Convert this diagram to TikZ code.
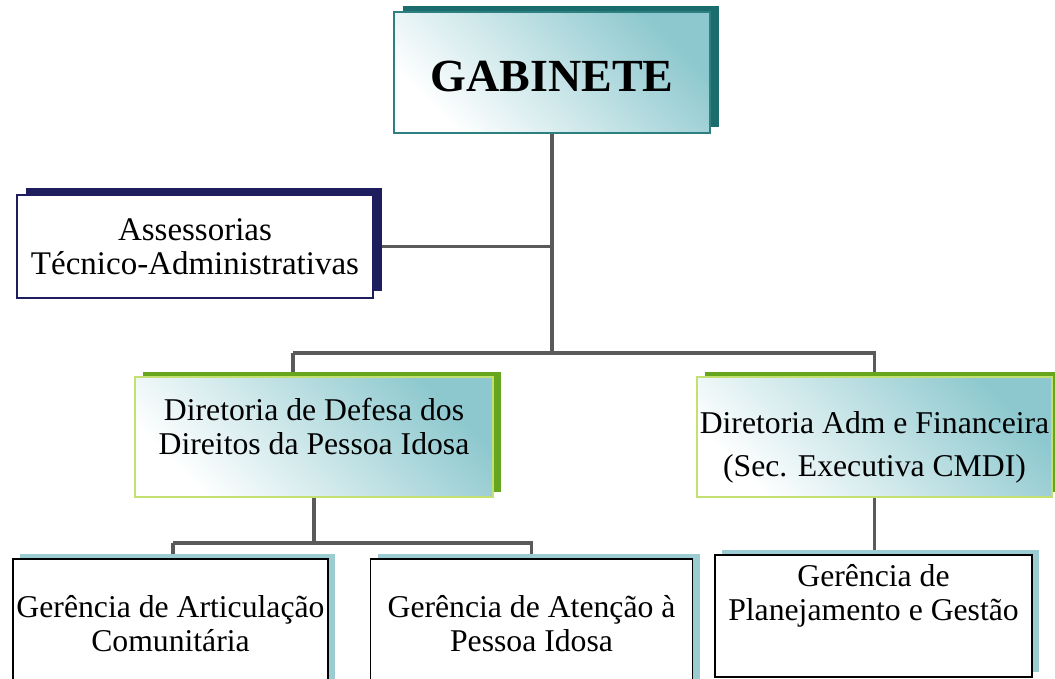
\documentclass[tikz,border=0pt]{standalone}
\usepackage{fontspec}
\setmainfont{Liberation Serif}
\usetikzlibrary{shadows,backgrounds}
\definecolor{gabshadow}{HTML}{1B6D6D}
\definecolor{gabline}{HTML}{2E8080}
\definecolor{boxteal}{HTML}{8CC8CE}
\definecolor{assnavy}{HTML}{1E1E5E}
\definecolor{dirgreen}{HTML}{66A61E}
\definecolor{dirline}{HTML}{C4E070}
\definecolor{gershadow}{HTML}{9BCCD1}
\definecolor{linkgray}{HTML}{5A5A5A}
\newcommand{\lifted}[2]{\raisebox{#1}[0pt][0pt]{\begin{tabular}{@{}c@{}}#2\end{tabular}}}
\begin{document}
\begin{tikzpicture}[x=1pt, y=-1pt,
    box/.style={rectangle, align=center, inner sep=0pt, font=\fontsize{31.7}{34}\selectfont},
    gabbox/.style={box, draw=gabline, line width=1.2pt, top color=boxteal, bottom color=white, shading angle=-45,
        general shadow={fill=gabshadow, shadow xshift=9pt, shadow yshift=6pt}},
    assbox/.style={box, draw=assnavy, fill=white, line width=1.2pt, font=\fontsize{33}{34}\selectfont,
        general shadow={fill=assnavy, shadow xshift=9pt, shadow yshift=7pt}},
    dirbox/.style={box, draw=dirline, line width=1.5pt, top color=boxteal, bottom color=white, shading angle=-45,
        general shadow={fill=dirgreen, shadow xshift=8pt, shadow yshift=5pt}},
    gerbox/.style={box, draw=black, fill=white, line width=1.2pt,
        general shadow={fill=gershadow, shadow xshift=7pt, shadow yshift=5pt}},
    link/.style={draw=linkgray, line width=3.5pt}]
    \useasboundingbox (0,0) rectangle (1055,678);
    \clip (0,0) rectangle (1055,678);
    \node [gabbox, minimum width=316pt, minimum height=121pt, font=\fontsize{46}{50}\bfseries] (gab) at (552,72.5) {\raisebox{-19pt}[0pt][0pt]{GABINETE}};
    \node [assbox, minimum width=356pt, minimum height=103pt] (ass) at (195,246.5) {Assessorias\\Técnico-Administrativas};
    \node [dirbox, minimum width=358pt, minimum height=120pt] (dir1) at (314,437) {\lifted{0pt}{Diretoria de Defesa dos\\Direitos da Pessoa Idosa}};
    \node [dirbox, minimum width=355pt, minimum height=120pt] (dir2) at (874.5,437) {\lifted{-17pt}{Diretoria Adm e Financeira\\[9pt](Sec. Executiva CMDI)}};
    \node [gerbox, minimum width=315pt, minimum height=130pt] (ger1) at (170.5,624) {Gerência de Articulação\\Comunitária};
    \node [gerbox, minimum width=322pt, minimum height=130pt] (ger2) at (531.5,624) {Gerência de Atenção à\\Pessoa Idosa};
    \node [gerbox, minimum width=317pt, minimum height=122pt] (ger3) at (873.5,616) {\lifted{13pt}{Gerência de\\Planejamento e Gestão}};
    \coordinate (top) at (293,353);
    \coordinate (low) at (173,543);
    \begin{pgfonlayer}{background}
        \draw [link] (gab.south) -- (gab.south |- top);
        \draw [link] (ass.east) -- (ass.east -| gab.south);
        \draw [link] (top) -- (top |- dir1.north);
        \draw [link] (top) -| (dir2.north);
        \draw [link] (dir1.south) -- (dir1.south |- low);
        \draw [link] (low) -- (low |- ger1.north);
        \draw [link] (low) -| (ger2.north);
        \draw [link] (dir2.south) -- (dir2.south |- ger3.north);
    \end{pgfonlayer}
\end{tikzpicture}
\end{document}
